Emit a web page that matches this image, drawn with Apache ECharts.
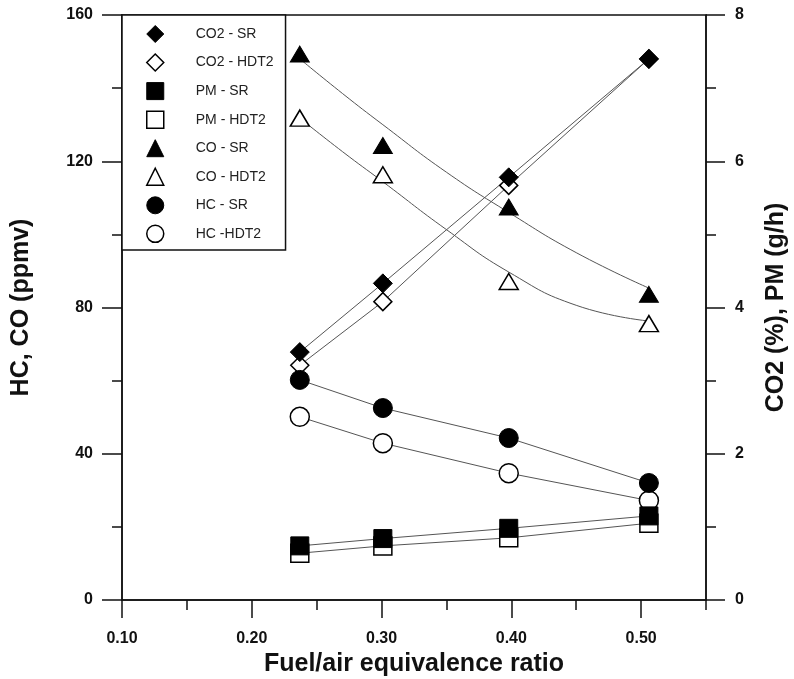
<!DOCTYPE html>
<html>
<head>
<meta charset="utf-8">
<script src="https://cdn.jsdelivr.net/npm/echarts@6/dist/echarts.min.js"></script>
<style>
    html, body { margin: 0; padding: 0; background: #fff; }
    #chart { width: 794px; height: 679px; }
</style>
</head>
<body>
<div id="chart"></div>
<script>
// fuel/air equivalence ratio of the four runs
var ratios = [0.237, 0.301, 0.398, 0.506];
var xTicks = [0.10, 0.20, 0.30, 0.40, 0.50];

// right axis: CO2 (%), PM (g/h)
var co2SR = [3.39, 4.33, 5.78, 7.40];
var co2HDT2 = [3.21, 4.08, 5.67, 7.40];
var pmSR = [0.74, 0.84, 0.98, 1.15];
var pmHDT2 = [0.64, 0.74, 0.85, 1.05];

// left axis: HC, CO (ppmv)
var coSR = [149.3, 124.3, 107.5, 83.6];
var coHDT2 = [131.8, 116.3, 87.1, 75.6];
var hcSR = [60.2, 52.5, 44.3, 32.0];
var hcHDT2 = [50.1, 42.9, 34.7, 27.2];

// fitted CO curves at these ratios
var fitRatios = [0.237, 0.27, 0.301, 0.35, 0.398, 0.45, 0.506];
var coSRFit = [148.0, 138.5, 130.0, 117.0, 106.0, 95.0, 85.3];
var coHDT2Fit = [131.8, 122.6, 114.4, 101.3, 89.7, 80.6, 76.3];

var font = 'Liberation Sans, Arial, sans-serif';
var ink = '#111';

function pairs(xs, ys) {
    var out = [];
    for (var i = 0; i < xs.length; i++) {
        out.push([xs[i], ys[i]]);
    }
    return out;
}

function markStyle(filled) {
    return filled ? { color: '#000', borderColor: '#000', borderWidth: 1, opacity: 1 }
                  : { color: '#fff', borderColor: '#000', borderWidth: 1.5, opacity: 1 };
}

function points(name, ys, symbol, size, filled, axis, z) {
    return {
        name: name,
        type: 'scatter',
        yAxisIndex: axis,
        symbol: symbol,
        symbolSize: size,
        z: z,
        itemStyle: markStyle(filled),
        emphasis: { disabled: true },
        data: pairs(ratios, ys)
    };
}

function curve(xs, ys, axis, smooth) {
    return {
        type: 'line',
        yAxisIndex: axis,
        showSymbol: false,
        smooth: smooth,
        silent: true,
        z: 1,
        lineStyle: { color: '#555', width: 1 },
        data: pairs(xs, ys)
    };
}

function legendItem(name, filled) {
    return { name: name, itemStyle: markStyle(filled) };
}

var chart = echarts.init(document.getElementById('chart'));

var axisLine = { show: true, lineStyle: { color: ink, width: 1.5 } };
var titleText = { color: ink, fontFamily: font, fontWeight: 'bold', fontSize: 25 };

chart.setOption({
    animation: false,
    backgroundColor: '#fff',
    grid: {
        left: 122, right: 88, top: 15, bottom: 79,
        outerBoundsMode: 'none',
        containLabel: false,
        show: true, borderColor: ink, borderWidth: 1.5
    },
    legend: {
        orient: 'vertical',
        left: 122,
        top: 15,
        padding: [10, 12, 7, 24],
        itemGap: 10.3,
        itemWidth: 17,
        itemHeight: 17,
        backgroundColor: '#fff',
        borderColor: ink,
        borderWidth: 1.5,
        borderRadius: 0,
        textStyle: { color: '#222', fontFamily: font, fontSize: 14, padding: [0, 0, 0, 27] },
        data: [
            legendItem('CO2 - SR', true),
            legendItem('CO2 - HDT2', false),
            legendItem('PM - SR', true),
            legendItem('PM - HDT2', false),
            legendItem('CO - SR', true),
            legendItem('CO - HDT2', false),
            legendItem('HC - SR', true),
            legendItem('HC -HDT2', false)
        ]
    },
    xAxis: [
        {
            type: 'value',
            min: 0.1,
            max: 0.55,
            interval: 0.1,
            name: 'Fuel/air equivalence ratio',
            nameLocation: 'middle',
            nameGap: 52,
            nameTextStyle: titleText,
            axisLine: axisLine,
            axisTick: { length: 18, customValues: xTicks, lineStyle: { color: ink, width: 1.5 } },
            axisLabel: {
                margin: 31,
                customValues: xTicks,
                formatter: function (v) { return v.toFixed(2); },
                color: ink, fontFamily: font, fontWeight: 'bold', fontSize: 16
            },
            splitLine: { show: false }
        },
        {
            // minor ticks every 0.05
            type: 'value',
            position: 'bottom',
            min: 0.1,
            max: 0.55,
            interval: 0.05,
            axisLine: { show: false },
            axisTick: { length: 10, lineStyle: { color: ink, width: 1.5 } },
            axisLabel: { show: false },
            splitLine: { show: false }
        }
    ],
    yAxis: [
        {
            type: 'value',
            min: 0,
            max: 160,
            interval: 40,
            name: 'HC, CO (ppmv)',
            nameLocation: 'middle',
            nameRotate: 90,
            nameGap: 88,
            nameTextStyle: titleText,
            axisLine: axisLine,
            axisTick: { length: 20, lineStyle: { color: ink, width: 1.5 } },
            minorTick: { show: true, splitNumber: 2, length: 10, lineStyle: { color: ink, width: 1.5 } },
            axisLabel: { margin: 29, color: ink, fontFamily: font, fontWeight: 'bold', fontSize: 16 },
            splitLine: { show: false }
        },
        {
            type: 'value',
            position: 'right',
            min: 0,
            max: 8,
            interval: 2,
            name: 'CO2 (%), PM (g/h)',
            nameLocation: 'middle',
            nameRotate: 90,
            nameGap: 58,
            nameTextStyle: titleText,
            axisLine: axisLine,
            axisTick: { length: 19, lineStyle: { color: ink, width: 1.5 } },
            minorTick: { show: true, splitNumber: 2, length: 10, lineStyle: { color: ink, width: 1.5 } },
            axisLabel: { margin: 29, color: ink, fontFamily: font, fontWeight: 'bold', fontSize: 16 },
            splitLine: { show: false }
        }
    ],
    series: [
        curve(ratios, co2SR, 1, false),
        curve(ratios, co2HDT2, 1, false),
        curve(ratios, pmSR, 1, false),
        curve(ratios, pmHDT2, 1, false),
        curve(fitRatios, coSRFit, 0, 0.5),
        curve(fitRatios, coHDT2Fit, 0, 0.5),
        curve(ratios, hcSR, 0, false),
        curve(ratios, hcHDT2, 0, false),

        points('CO2 - HDT2', co2HDT2, 'diamond', 18, false, 1, 3),
        points('CO2 - SR', co2SR, 'diamond', 19, true, 1, 4),
        points('CO - HDT2', coHDT2, 'triangle', [19, 16], false, 0, 3),
        points('CO - SR', coSR, 'triangle', [19, 16], true, 0, 4),
        points('HC -HDT2', hcHDT2, 'circle', 19, false, 0, 5),
        points('HC - SR', hcSR, 'circle', 19, true, 0, 6),
        points('PM - HDT2', pmHDT2, 'rect', 18, false, 1, 7),
        points('PM - SR', pmSR, 'rect', 18, true, 1, 8)
    ]
});
</script>
</body>
</html>
